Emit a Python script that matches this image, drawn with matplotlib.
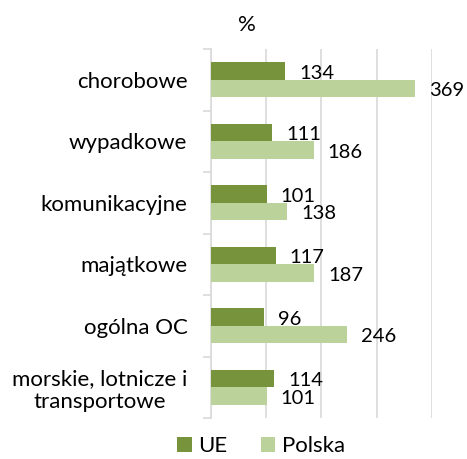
import matplotlib
matplotlib.use("Agg")
import matplotlib.pyplot as plt
import numpy as np

plt.rcParams.update({
    'font.family': ['Lato', 'DejaVu Sans'],
    'font.size': 16,
})

# data
categories = ["chorobowe", "wypadkowe", "komunikacyjne", "majątkowe",
              "ogólna OC", "morskie, lotnicze i\ntransportowe"]
ue = [134, 111, 101, 117, 96, 114]
polska = [369, 186, 138, 187, 246, 101]

c_ue = "#77933C"
c_pl = "#BCD29B"

fig = plt.figure(figsize=(4.67, 4.59), dpi=100)
ax = fig.add_axes([0.4518, 0.0893, 0.4732, 0.8039])

y = np.arange(len(categories))
h = 0.285
b1 = ax.barh(y - h / 2, ue, height=h, color=c_ue, label="UE", zorder=3)
b2 = ax.barh(y + h / 2, polska, height=h, color=c_pl, label="Polska", zorder=3)

for bars, vals in [(b1, ue), (b2, polska)]:
    for bar, v in zip(bars, vals):
        ax.annotate(str(v), (bar.get_width(), bar.get_y() + bar.get_height() / 2),
                    xytext=(10, -1.5), textcoords="offset points",
                    ha="left", va="center", fontsize=14.5, color="#000000")

ax.set_xlim(0, 400)
ax.set_ylim(len(categories) - 0.5, -0.5)
ax.set_xticks([0, 100, 200, 300, 400])
ax.xaxis.grid(True, color="#D9D9D9", linewidth=1.2, zorder=0)
ax.tick_params(axis="x", length=0, labelbottom=False)

ax.set_yticks(y)
ax.set_yticklabels(categories, multialignment="center")
ax.set_yticks(np.arange(-0.5, len(categories)), minor=True)
ax.tick_params(axis="y", which="major", length=0, pad=17)
ax.tick_params(axis="y", which="minor", length=6, color="#D9D9D9", width=1.2)

for s in ["top", "right", "bottom"]:
    ax.spines[s].set_visible(False)
ax.spines["left"].set_color("#D9D9D9")
ax.spines["left"].set_linewidth(1.2)

fig.text(247 / 467, 1 - 25 / 459, "%", ha="center", va="center", fontsize=16)

fig.legend(handles=[b1, b2], loc="center", bbox_to_anchor=(261 / 467, 1 - 446 / 459),
           ncol=2, frameon=False, handlelength=0.64, handleheight=0.64,
           handletextpad=0.3, columnspacing=1.5, fontsize=16,
           borderpad=0.1)

fig.savefig("out.png", dpi=100, facecolor="white")
